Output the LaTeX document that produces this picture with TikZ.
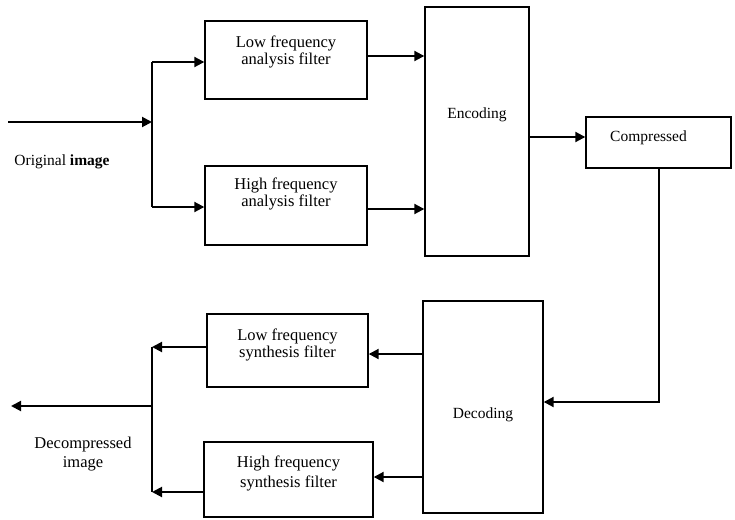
\documentclass[tikz,border=0pt]{standalone}
\usepackage{fontspec}
\setmainfont{Liberation Serif}
\usetikzlibrary{arrows.meta}

\begin{document}
\begin{tikzpicture}[
    x=1pt, y=-1pt,
    block/.style={draw, line width=1.4pt, inner xsep=0pt, inner ysep=0pt,
                  align=center, font=\fontsize{15.5}{17}\selectfont},
    filter/.style={block, font=\fontsize{16.5}{17}\selectfont},
    flow/.style={-{Triangle[length=10pt,width=10pt]}, line width=2pt},
    wire/.style={line width=2pt},
    lbl/.style={align=center, font=\fontsize{15.5}{19}\selectfont},
  ]
    \useasboundingbox (0,0) rectangle (735,519);

    % analysis side
    \node[filter, minimum width=162pt, text height=43pt, text depth=35pt] (la) at (286, 60)
        {Low frequency\\analysis filter};
    \node[filter, minimum width=162pt, text height=40pt, text depth=39pt] (ha) at (286, 205.5)
        {High frequency\\analysis filter};
    \node[block, minimum width=104pt, text height=111pt, text depth=138pt] (enc) at (477, 131.5)
        {Encoding};
    \node[block, minimum width=145pt, text height=24pt, text depth=27pt] (comp) at (658.5, 142.5)
        {Compressed\hspace*{20pt}};
    \node[lbl] (orig) at (62, 162) {Original \textbf{image}};

    % synthesis side
    \node[block, minimum width=120pt, text height=117pt, text depth=95pt] (dec) at (483, 407)
        {Decoding};
    \node[filter, minimum width=161pt, text height=43pt, text depth=30pt] (ls) at (287.5, 350.5)
        {Low frequency\\synthesis filter};
    \node[filter, minimum width=169pt, text height=45pt, text depth=30pt,
          font=\fontsize{16.5}{20}\selectfont] (hs) at (288.5, 479.5)
        {High frequency\\synthesis filter};
    \node[lbl, font=\fontsize{16.5}{19}\selectfont] (decomp) at (83, 454) {Decompressed\\image};

    % split and join points
    \coordinate (in)  at (8, 122);
    \coordinate (sp)  at (152, 122);
    \coordinate (sa)  at (152, 62);
    \coordinate (sb)  at (152, 207);
    \coordinate (oa)  at (152, 347);
    \coordinate (ob)  at (152, 492);
    \coordinate (oc)  at (152, 406);
    \coordinate (out) at (11, 406);

    \draw[flow] (in) -- (sp);
    \draw[wire] (sa) -- (sb);
    \draw[flow] (sa) -- (sa -| la.west);
    \draw[flow] (sb) -- (sb -| ha.west);
    \draw[flow] ([yshift=4pt]la.east) -- ([yshift=4pt]la.east -| enc.west);
    \draw[flow] ([yshift=-3.5pt]ha.east) -- ([yshift=-3.5pt]ha.east -| enc.west);
    \draw[flow] ([yshift=-5.5pt]enc.east) -- ([yshift=-5.5pt]enc.east -| comp.west);

    \draw[flow] (comp.south) |- ([yshift=5pt]dec.east);
    \draw[flow] ([yshift=-3.5pt]ls.east -| dec.west) -- ([yshift=-3.5pt]ls.east);
    \draw[flow] ([yshift=2.5pt]hs.east -| dec.west) -- ([yshift=2.5pt]hs.east);
    \draw[flow] (ls.west |- oa) -- (oa);
    \draw[flow] (hs.west |- ob) -- (ob);
    \draw[wire] (oa) -- (ob);
    \draw[flow] (oc) -- (out);
  \end{tikzpicture}
\end{document}
